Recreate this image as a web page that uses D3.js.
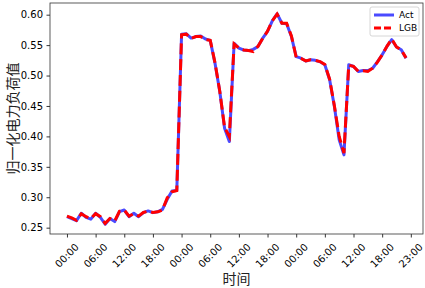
<!DOCTYPE html>
<html>
<head>
<meta charset="utf-8">
<script src="https://cdn.jsdelivr.net/npm/d3@7"></script>
<style>
  body { margin: 0; background: #fff; }
  svg { display: block; font-family: "DejaVu Sans", sans-serif; }
  .cjk { font-family: "Noto Sans CJK SC", sans-serif; }
</style>
</head>
<body>
<svg id="chart" width="425" height="288"></svg>
<script>
// hourly load, 3 days (index 0..71)
const act = [
  0.268, 0.265, 0.2615, 0.2737, 0.267, 0.264, 0.2737, 0.267, 0.2556, 0.265,
  0.260, 0.2763, 0.279, 0.268, 0.2737, 0.268, 0.2747, 0.2775, 0.2747, 0.276,
  0.280, 0.2967, 0.3103, 0.311, 0.568, 0.5685, 0.5615, 0.564, 0.565, 0.560,
  0.5577, 0.520, 0.4737, 0.4135, 0.3915, 0.553, 0.545, 0.542, 0.541, 0.543,
  0.5478, 0.5615, 0.5725, 0.590, 0.6015, 0.586, 0.585, 0.564, 0.531, 0.5285,
  0.524, 0.526, 0.525, 0.5225, 0.5177, 0.493, 0.449, 0.3943, 0.3696, 0.5177,
  0.5148, 0.5066, 0.5083, 0.5083, 0.512, 0.5225, 0.534, 0.5478, 0.559, 0.5468,
  0.5424, 0.5285
];
const lgb = [
  0.269, 0.266, 0.262, 0.273, 0.268, 0.265, 0.273, 0.268, 0.257, 0.265,
  0.261, 0.277, 0.279, 0.269, 0.273, 0.269, 0.275, 0.277, 0.275, 0.276,
  0.279, 0.299, 0.309, 0.311, 0.567, 0.568, 0.561, 0.564, 0.564, 0.559,
  0.558, 0.521, 0.474, 0.415, 0.400, 0.552, 0.545, 0.542, 0.541, 0.5395,
  0.548, 0.561, 0.573, 0.590, 0.601, 0.586, 0.586, 0.565, 0.530, 0.528,
  0.524, 0.526, 0.525, 0.523, 0.518, 0.494, 0.450, 0.400, 0.3725, 0.517,
  0.515, 0.507, 0.508, 0.5066, 0.512, 0.522, 0.534, 0.548, 0.560, 0.547,
  0.542, 0.529
];
const xTicks = [0, 6, 12, 18, 24, 30, 36, 42, 48, 54, 60, 66, 72];
const xTickLabels = ["00:00", "06:00", "12:00", "18:00", "00:00", "06:00",
  "12:00", "18:00", "00:00", "06:00", "12:00", "18:00", "23:00"];
const yTicks = [0.25, 0.30, 0.35, 0.40, 0.45, 0.50, 0.55, 0.60];

const svg = d3.select("#chart");
const mLeft = 50, mRight = 423, mTop = 3, mBottom = 234;
const tickFont = "DejaVu Sans, sans-serif";

const x = d3.scaleLinear().domain([-3.55, 74.55]).range([mLeft, mRight]);
const y = d3.scaleLinear().domain([0.2396, 0.6192]).range([mBottom, mTop]);

// axes
const xAxis = svg.append("g")
  .attr("transform", `translate(0,${mBottom})`)
  .call(d3.axisBottom(x).tickValues(xTicks).tickSize(3.5).tickFormat(""));
xAxis.select(".domain").remove();
xAxis.selectAll("line").attr("stroke", "#000").attr("stroke-width", 0.8);

xAxis.selectAll(".lab")
  .data(xTicks)
  .join("text")
  .attr("class", "lab")
  .attr("transform", (d) => `translate(${x(d)},21.5) rotate(-45)`)
  .attr("text-anchor", "middle")
  .attr("dominant-baseline", "central")
  .attr("font-family", tickFont)
  .attr("font-size", 10)
  .attr("fill", "#000")
  .text((d, i) => xTickLabels[i]);

const yAxis = svg.append("g")
  .attr("transform", `translate(${mLeft},0)`)
  .call(d3.axisLeft(y).tickValues(yTicks).tickSize(3.5).tickPadding(3.5).tickFormat(d3.format(".2f")));
yAxis.select(".domain").remove();
yAxis.selectAll("line").attr("stroke", "#000").attr("stroke-width", 0.8);
yAxis.selectAll("text")
  .attr("font-size", 10)
  .attr("fill", "#000")
  .attr("font-family", tickFont);

// lines
const line = d3.line().x((d, i) => x(i)).y((d) => y(d));

svg.append("path")
  .datum(act)
  .attr("fill", "none")
  .attr("stroke", "#4a4aff")
  .attr("stroke-width", 3)
  .attr("stroke-linejoin", "round")
  .attr("d", line);

svg.append("path")
  .datum(lgb)
  .attr("fill", "none")
  .attr("stroke", "#ff0000")
  .attr("stroke-width", 3)
  .attr("stroke-dasharray", "11,4.8")
  .attr("d", line);

// frame
svg.append("rect")
  .attr("x", mLeft)
  .attr("y", mTop)
  .attr("width", mRight - mLeft)
  .attr("height", mBottom - mTop)
  .attr("fill", "none")
  .attr("stroke", "#333")
  .attr("stroke-width", 0.8);

// axis titles
svg.append("text")
  .attr("class", "cjk")
  .attr("x", (mLeft + mRight) / 2)
  .attr("y", 278)
  .attr("text-anchor", "middle")
  .attr("dominant-baseline", "central")
  .attr("font-size", 14)
  .attr("fill", "#222")
  .text("时间");

svg.append("text")
  .attr("class", "cjk")
  .attr("transform", `translate(12,${(mTop + mBottom) / 2}) rotate(-90)`)
  .attr("text-anchor", "middle")
  .attr("dominant-baseline", "central")
  .attr("font-size", 14)
  .attr("fill", "#222")
  .text("归一化电力负荷值");

// legend
const legend = svg.append("g").attr("transform", "translate(370,7)");
legend.append("rect")
  .attr("width", 49)
  .attr("height", 29)
  .attr("rx", 2)
  .attr("fill", "rgba(255,255,255,0.8)")
  .attr("stroke", "#ccc")
  .attr("stroke-width", 0.8);

const items = [
  { name: "Act", color: "#4a4aff", dash: null },
  { name: "LGB", color: "#ff0000", dash: "7,3" },
];
items.forEach((it, i) => {
  const yy = 8 + i * 13;
  legend.append("line")
    .attr("x1", 4).attr("x2", 24)
    .attr("y1", yy).attr("y2", yy)
    .attr("stroke", it.color)
    .attr("stroke-width", 3)
    .attr("stroke-dasharray", it.dash);
  legend.append("text")
    .attr("x", 29)
    .attr("y", yy)
    .attr("dominant-baseline", "central")
    .attr("font-family", tickFont)
    .attr("font-size", 9)
    .attr("fill", "#000")
    .text(it.name);
});
</script>
</body>
</html>
